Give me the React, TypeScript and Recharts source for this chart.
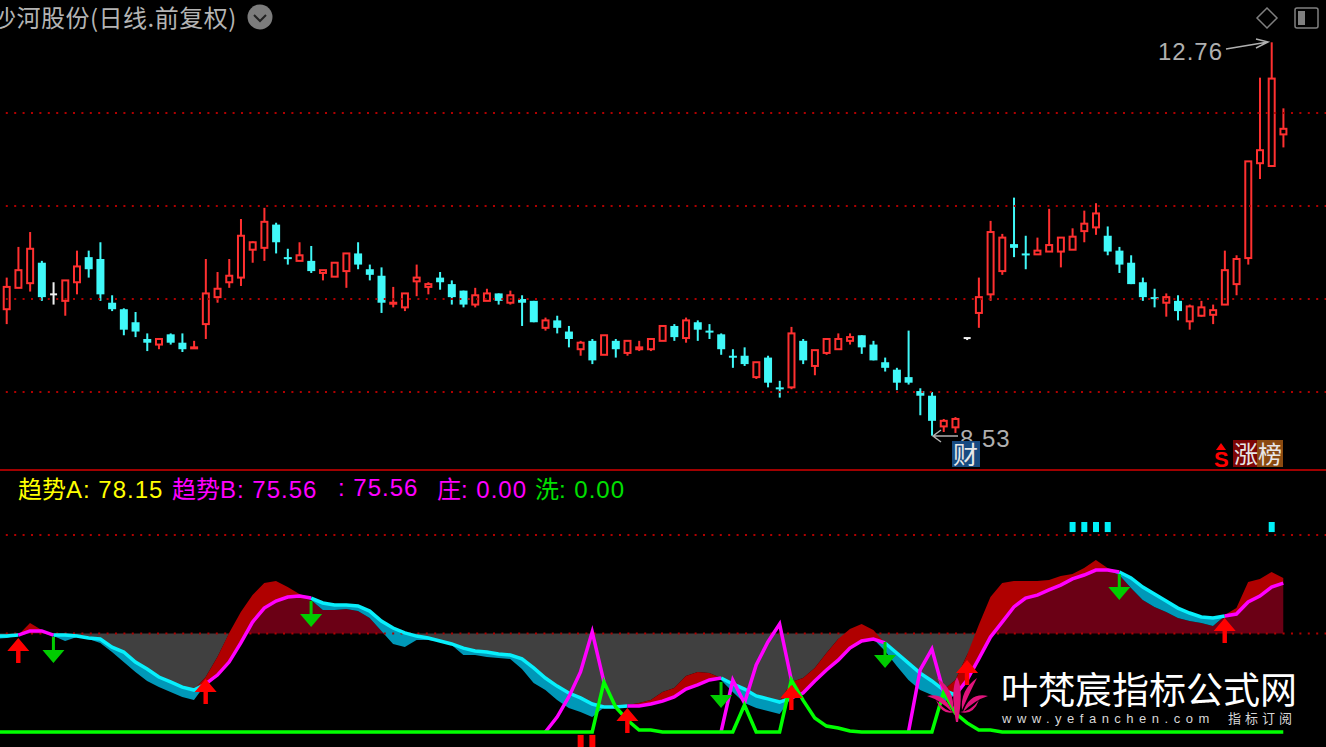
import React from 'react';
import { ComposedChart, Bar, Line, Area, XAxis, YAxis, ReferenceLine, Cell } from 'recharts';

const highs = [
  10.23, 10.56, 10.72, 10.41, 10.18, 10.20, 10.52, 10.52, 10.61, 10.04,
  9.90, 9.86, 9.63, 9.57, 9.63, 9.63, 9.55, 10.43, 10.29, 10.43,
  10.86, 10.62, 10.98, 10.82, 10.54, 10.61, 10.57, 10.31, 10.39, 10.49,
  10.61, 10.37, 10.34, 10.13, 10.06, 10.37, 10.18, 10.29, 10.20, 10.09,
  10.12, 10.11, 10.06, 10.09, 10.04, 9.98, 9.80, 9.82, 9.71, 9.55,
  9.57, 9.61, 9.57, 9.55, 9.55, 9.57, 9.71, 9.73, 9.80, 9.77,
  9.73, 9.63, 9.46, 9.48, 9.32, 9.39, 9.12, 9.70, 9.57, 9.45,
  9.57, 9.63, 9.63, 9.61, 9.55, 9.37, 9.26, 9.66, 9.04, 9.00,
  8.71, 8.73, 9.58, 10.23, 10.84, 10.70, 11.09, 10.68, 10.66, 10.97,
  10.66, 10.76, 10.95, 11.03, 10.78, 10.56, 10.47, 10.23, 10.11, 10.06,
  10.04, 9.94, 9.98, 9.94, 10.52, 10.47, 11.48, 12.38, 12.76, 12.05,
];
const lows = [
  9.73, 10.12, 10.08, 9.98, 9.94, 9.82, 10.05, 10.23, 9.98, 9.87,
  9.61, 9.59, 9.44, 9.46, 9.51, 9.43, 9.47, 9.57, 9.96, 10.12,
  10.14, 10.39, 10.41, 10.49, 10.37, 10.41, 10.28, 10.20, 10.24, 10.12,
  10.32, 10.20, 9.85, 9.91, 9.87, 10.03, 10.05, 10.10, 9.94, 9.91,
  9.91, 9.98, 9.94, 9.94, 9.71, 9.75, 9.66, 9.63, 9.48, 9.39,
  9.30, 9.40, 9.37, 9.39, 9.44, 9.44, 9.55, 9.55, 9.53, 9.55,
  9.57, 9.40, 9.26, 9.28, 9.14, 9.05, 8.94, 9.03, 9.30, 9.18,
  9.40, 9.46, 9.51, 9.41, 9.34, 9.22, 9.02, 9.08, 8.75, 8.53,
  8.57, 8.56, 9.58, 9.69, 9.98, 10.26, 10.45, 10.32, 10.48, 10.51,
  10.34, 10.53, 10.61, 10.69, 10.47, 10.28, 10.16, 9.98, 9.91, 9.81,
  9.77, 9.67, 9.81, 9.73, 9.94, 10.04, 10.37, 11.29, 11.43, 11.63,
];
const opens = [
  9.89, 10.12, 10.17, 10.39, 10.05, 9.98, 10.18, 10.45, 10.43, 9.96,
  9.89, 9.75, 9.57, 9.51, 9.62, 9.53, 9.47, 9.73, 10.02, 10.18,
  10.23, 10.53, 10.55, 10.80, 10.45, 10.41, 10.41, 10.28, 10.24, 10.30,
  10.49, 10.32, 10.25, 9.95, 9.91, 10.19, 10.13, 10.23, 10.16, 10.09,
  9.94, 9.98, 10.06, 9.96, 10.00, 9.98, 9.69, 9.77, 9.65, 9.46,
  9.55, 9.40, 9.55, 9.42, 9.46, 9.46, 9.55, 9.71, 9.58, 9.75,
  9.66, 9.62, 9.39, 9.39, 9.16, 9.37, 9.05, 9.05, 9.55, 9.28,
  9.42, 9.46, 9.55, 9.61, 9.51, 9.32, 9.24, 9.16, 9.01, 8.96,
  8.63, 8.62, 9.58, 9.85, 10.05, 10.30, 10.59, 10.49, 10.48, 10.51,
  10.51, 10.53, 10.73, 10.77, 10.68, 10.52, 10.39, 10.18, 10.02, 9.96,
  9.98, 9.76, 9.82, 9.83, 9.94, 10.16, 10.44, 11.46, 11.43, 11.77,
];
const closes = [
  10.13, 10.31, 10.54, 10.02, 10.05, 10.20, 10.35, 10.32, 10.05, 9.89,
  9.67, 9.65, 9.53, 9.57, 9.53, 9.46, 9.48, 10.06, 10.11, 10.25,
  10.68, 10.61, 10.83, 10.61, 10.43, 10.47, 10.30, 10.31, 10.39, 10.49,
  10.37, 10.26, 9.96, 9.96, 10.06, 10.23, 10.16, 10.18, 10.02, 9.94,
  10.04, 10.06, 9.98, 10.04, 9.96, 9.75, 9.77, 9.69, 9.57, 9.53,
  9.34, 9.61, 9.46, 9.55, 9.48, 9.57, 9.71, 9.59, 9.77, 9.67,
  9.65, 9.46, 9.38, 9.30, 9.32, 9.10, 9.03, 9.63, 9.34, 9.45,
  9.57, 9.57, 9.59, 9.48, 9.34, 9.26, 9.10, 9.10, 8.96, 8.69,
  8.69, 8.71, 9.58, 10.02, 10.72, 10.66, 10.55, 10.48, 10.52, 10.58,
  10.66, 10.67, 10.81, 10.92, 10.51, 10.37, 10.16, 10.02, 10.01, 10.02,
  9.87, 9.92, 9.91, 9.88, 10.31, 10.43, 11.48, 11.60, 12.37, 11.83,
];

const trendA = [
  47.7, 49.2, 55.3, 51.8, 48.7, 46.2, 48.2, 47.2, 45.2, 40.6,
  35.5, 30.5, 25.9, 22.8, 20.3, 17.8, 16.2, 27.9, 38.1, 50.3,
  60.9, 69.5, 75.6, 76.6, 73.6, 70.0, 67.0, 61.9, 61.9, 62.4,
  61.4, 57.9, 51.3, 44.7, 43.1, 46.7, 46.7, 45.9, 44.2, 39.1,
  39.1, 38.1, 37.6, 37.1, 32.0, 24.9, 21.3, 16.2, 12.2, 10.2,
  7.6, 12.5, 12.6, 13.7, 14.7, 16.2, 20.3, 22.3, 28.4, 30.5,
  29.9, 26.4, 20.3, 14.7, 12.2, 10.7, 9.1, 25.4, 27.4, 32.5,
  40.1, 47.2, 52.3, 54.8, 51.8, 41.1, 33.5, 26.4, 21.3, 18.8,
  15.2, 26.4, 39.1, 54.3, 68.5, 75.6, 76.6, 76.6, 76.6, 77.2,
  79.2, 80.2, 83.2, 87.3, 83.2, 79.7, 73.1, 67.0, 63.5, 60.9,
  57.9, 56.3, 55.3, 53.8, 59.4, 62.9, 76.1, 77.7, 81.2, 78.15,
];
const trendB = [
  48.7, 49.2, 51.3, 51.3, 49.2, 49.2, 48.7, 47.7, 47.2, 43.1,
  40.6, 35.5, 32.0, 27.9, 25.4, 22.8, 21.3, 24.4, 28.9, 35.5,
  45.2, 55.8, 62.9, 66.5, 68.5, 69.0, 68.0, 65.5, 64.5, 64.5,
  64.0, 61.4, 56.3, 52.8, 50.3, 48.7, 47.7, 46.2, 44.7, 42.6,
  41.1, 40.6, 39.6, 39.1, 37.1, 32.5, 27.4, 23.3, 19.8, 17.3,
  14.2, 12.7, 12.7, 13.2, 13.2, 14.2, 15.7, 17.8, 21.8, 23.9,
  26.4, 27.4, 24.4, 21.8, 18.3, 16.8, 15.2, 17.3, 19.8, 25.9,
  31.5, 36.5, 42.6, 46.2, 47.2, 45.2, 40.1, 35.0, 29.9, 25.9,
  21.3, 18.8, 26.4, 37.1, 48.2, 55.8, 63.5, 68.0, 69.5, 72.1,
  74.6, 77.7, 79.7, 82.2, 82.2, 81.2, 78.2, 73.6, 70.0, 66.5,
  62.9, 60.4, 58.4, 57.9, 58.9, 59.9, 66.0, 69.0, 73.6, 75.56,
];
const leadA = 47.2;
const leadB = 48.7;

// 庄 only shows during its spikes: [start index, values]
const zhuangSpikes: [number, number[]][] = [
  [46, [0, 7.6, 17.8, 30.5, 50.8, 25.4]],
  [61, [0, 26.4, 14.7, 34.0, 45.7, 54.8, 26.4]],
  [77, [0, 31.5, 42.1, 20.3]],
];
const washSpikes: [number, number[]][] = [
  [51, [25.4, 12.7, 6.1, 1.0, 1.0]],
  [63, [13.7]],
  [67, [26.4, 16.2, 7.1, 3.0, 2.0, 0.5]],
  [80, [20.3, 9.6, 4.6, 1.0, 1.0]],
];

const upArrows: [number, number][] = [[1, 47.7], [17, 26.9], [53, 12.2], [67, 23.9], [82, 36.5], [104, 57.9]];
const downArrows: [number, number][] = [[4, 35.0], [26, 53.3], [61, 12.2], [75, 32.5], [95, 67.0]];
const signalDays = [91, 92, 93, 94, 108];
const stickDays = [49, 50];

const priceGrid = [12, 11, 10, 9];
const indicatorGrid = [100, 50];

const zhuang: (number | null)[] = highs.map(() => null);
zhuangSpikes.forEach(([s, vals]) => vals.forEach((v, k) => { zhuang[s + k] = v; }));
const wash: number[] = highs.map(() => 0);
washSpikes.forEach(([s, vals]) => vals.forEach((v, k) => { wash[s + k] = v; }));

const isUp = (i: number) => i >= 0 && i < trendA.length && trendA[i] >= trendB[i];
const isDown = (i: number) => i >= 0 && i < trendA.length && trendA[i] < trendB[i];

const rows: any[] = [
  { key: 'lead', a: leadA, b: leadB, teal: [leadA, leadB], gray: [leadB, 50], bDown: leadB, wash: 0 },
];
highs.forEach((h, i) => {
  const a = trendA[i];
  const b = trendB[i];
  const upper = Math.max(a, b);
  const lower = Math.min(a, b);
  const mark = signalDays.includes(i) ? [101.5, 106.6] : stickDays.includes(i) ? [-7.6, -1.5] : null;
  rows.push({
    key: i,
    range: [lows[i], h],
    open: opens[i],
    close: closes[i],
    high: h,
    low: lows[i],
    gray: upper < 50 ? [upper, 50] : [50, 50],
    maroon: lower > 50 ? [50, lower] : [50, 50],
    red: isUp(i) ? [b, a] : isUp(i - 1) || isUp(i + 1) ? [b, b] : null,
    teal: isDown(i) ? [a, b] : isDown(i - 1) || isDown(i + 1) ? [b, b] : null,
    bUp: isUp(i) || isUp(i - 1) ? b : null,
    bDown: isDown(i) || isDown(i - 1) ? b : null,
    zhuang: zhuang[i],
    wash: wash[i],
    mark,
    markFill: signalDays.includes(i) ? '#00f0f8' : '#ff0000',
    up: upArrows.find((p) => p[0] === i)?.[1] ?? null,
    down: downArrows.find((p) => p[0] === i)?.[1] ?? null,
  });
});
// blank days to the right so the dotted lines reach the edge
[0, 1, 2, 3].forEach((k) => rows.push({ key: 'blank' + k }));

const SLOT = 11.713;
const CHART_W = rows.length * SLOT;
const LEFT = 7 - 1.5 * SLOT;

const RED = '#ff3030';
const CYAN = '#40f8f8';

function Candle(props: any) {
  const { x, y, width, height, payload } = props;
  if (!payload || payload.range == null) return null;
  const { open, close, high, low } = payload;
  const cx = x + width / 2;
  const h = Math.abs(height);
  const span = high - low;
  const at = (p: number) => (span > 0 ? y + ((high - p) / span) * h : y);
  const top = at(Math.max(open, close));
  const bot = at(Math.min(open, close));
  if (open === close) {
    return (
      <g>
        <rect x={cx - 1} y={at(high)} width={2} height={Math.max(at(low) - at(high), 2)} fill="#f0f0f0" />
        <rect x={cx - 3.5} y={top - 1} width={7} height={2} fill="#f0f0f0" />
      </g>
    );
  }
  if (close > open) {
    return (
      <g>
        <rect x={cx - 1} y={at(high)} width={2} height={Math.max(top - at(high), 0)} fill={RED} />
        <rect x={cx - 1} y={bot} width={2} height={Math.max(at(low) - bot, 0)} fill={RED} />
        <rect x={cx - 3} y={top} width={6} height={Math.max(bot - top, 1)} fill="#000" stroke={RED} strokeWidth={2} />
      </g>
    );
  }
  return (
    <g>
      <rect x={cx - 1} y={at(high)} width={2} height={Math.max(at(low) - at(high), 0)} fill={CYAN} />
      <rect x={cx - 4} y={top} width={8} height={Math.max(bot - top, 2)} fill={CYAN} />
    </g>
  );
}

function UpArrow(props: any) {
  const { cx, cy, index } = props;
  if (cy == null || cx == null) return <g key={index} />;
  return (
    <path
      key={index}
      d={`M${cx} ${cy} L${cx + 11} ${cy + 13} L${cx + 2.2} ${cy + 13} L${cx + 2.2} ${cy + 25} L${cx - 2.2} ${cy + 25} L${cx - 2.2} ${cy + 13} L${cx - 11} ${cy + 13} Z`}
      fill="#ff0000"
    />
  );
}

function DownArrow(props: any) {
  const { cx, cy, index } = props;
  if (cy == null || cx == null) return <g key={index} />;
  return (
    <path
      key={index}
      d={`M${cx} ${cy} L${cx + 11} ${cy - 13} L${cx + 1.5} ${cy - 13} L${cx + 1.5} ${cy - 26} L${cx - 1.5} ${cy - 26} L${cx - 1.5} ${cy - 13} L${cx - 11} ${cy - 13} Z`}
      fill="#00cc00"
    />
  );
}

const CJK = '"Noto Sans CJK SC", "Noto Sans", sans-serif';
const DIGIT = '"Liberation Sans", Arial, sans-serif';

function Txt({ x, y, size, color, children, font, extra }: any) {
  return (
    <div
      style={{
        position: 'absolute',
        left: x,
        top: y,
        fontSize: size,
        lineHeight: `${size + 4}px`,
        color,
        fontFamily: font || CJK,
        whiteSpace: 'nowrap',
        ...extra,
      }}
    >
      {children}
    </div>
  );
}

const digitSpan = { fontFamily: DIGIT, letterSpacing: 1 };

export default function App() {
  return (
    <div style={{ position: 'absolute', left: 0, top: 0, width: 1326, height: 747, background: '#000', overflow: 'hidden' }}>
      <div style={{ position: 'absolute', left: LEFT, top: 0 }}>
        <ComposedChart width={CHART_W} height={469} data={rows} margin={{ top: 0, right: 0, bottom: 0, left: 0 }} barCategoryGap={0}>
          <XAxis dataKey="key" hide interval={0} />
          <YAxis hide domain={[8.172, 13.215]} allowDataOverflow />
          {priceGrid.map((p) => (
            <ReferenceLine key={p} y={p} stroke="#b00000" strokeWidth={2} strokeDasharray="2 6.4" />
          ))}
          <Bar dataKey="range" shape={<Candle />} isAnimationActive={false} />
        </ComposedChart>
      </div>

      <div style={{ position: 'absolute', left: 0, top: 469, width: 1326, height: 2, background: '#a00000' }} />

      <div style={{ position: 'absolute', left: LEFT, top: 471 }}>
        <ComposedChart width={CHART_W} height={276} data={rows} margin={{ top: 0, right: 0, bottom: 0, left: 0 }} barSize={6}>
          <XAxis dataKey="key" hide interval={0} />
          <YAxis hide domain={[-7.61, 132.49]} allowDataOverflow />
          {indicatorGrid.map((v) => (
            <ReferenceLine key={v} y={v} stroke="#b00000" strokeWidth={2} strokeDasharray="2 6.4" />
          ))}
          <Area dataKey="gray" type="linear" fill="#404040" fillOpacity={1} stroke="none" isAnimationActive={false} />
          <Area dataKey="maroon" type="linear" fill="#6b0015" fillOpacity={1} stroke="none" isAnimationActive={false} />
          <Area dataKey="red" type="linear" fill="#b00000" fillOpacity={1} stroke="none" isAnimationActive={false} />
          <Area dataKey="teal" type="linear" fill="#0098b8" fillOpacity={1} stroke="none" isAnimationActive={false} />
          <Bar dataKey="mark" isAnimationActive={false}>
            {rows.map((r) => (
              <Cell key={r.key} fill={r.markFill || '#000'} />
            ))}
          </Bar>
          <Line dataKey="bDown" type="linear" stroke="#08f0fc" strokeWidth={3.5} dot={false} activeDot={false} isAnimationActive={false} />
          <Line dataKey="bUp" type="linear" stroke="#ff00ff" strokeWidth={3.5} dot={false} activeDot={false} isAnimationActive={false} />
          <Line dataKey="zhuang" type="linear" stroke="#ff00ff" strokeWidth={3.5} dot={false} activeDot={false} isAnimationActive={false} />
          <Line dataKey="wash" type="linear" stroke="#00ff00" strokeWidth={3.5} dot={false} activeDot={false} isAnimationActive={false} />
          <Line dataKey="up" stroke="none" dot={<UpArrow />} activeDot={false} isAnimationActive={false} />
          <Line dataKey="down" stroke="none" dot={<DownArrow />} activeDot={false} isAnimationActive={false} />
        </ComposedChart>
      </div>

      {/* header */}
      <Txt x={-8} y={3} size={24} color="#b4b4b4" extra={{ letterSpacing: 0.5 }}>沙河股份(日线.前复权)</Txt>

      {/* panel legend */}
      <Txt x={18} y={474} size={24} color="#ffff00">趋势<span style={digitSpan}>A: 78.15</span></Txt>
      <Txt x={172} y={474} size={24} color="#ff00ff">趋势<span style={digitSpan}>B: 75.56</span></Txt>
      <Txt x={338} y={474} size={24} color="#ff00ff" font={DIGIT} extra={{ letterSpacing: 1 }}>: 75.56</Txt>
      <Txt x={437} y={474} size={24} color="#ff00ff">庄<span style={digitSpan}>: 0.00</span></Txt>
      <Txt x={535} y={474} size={24} color="#00e000">洗<span style={digitSpan}>: 0.00</span></Txt>

      {/* high / low labels */}
      <Txt x={1158} y={38} size={24} color="#b0b0b0" font={DIGIT} extra={{ letterSpacing: 1 }}>12.76</Txt>
      <Txt x={960} y={425} size={24} color="#b0b0b0" font={DIGIT} extra={{ letterSpacing: 1 }}>8.53</Txt>

      {/* tags */}
      <div style={{ position: 'absolute', left: 952, top: 441, width: 28, height: 26, background: '#174a80' }} />
      <Txt x={953} y={439} size={25} color="#e8e8e8">财</Txt>
      <div style={{ position: 'absolute', left: 1233, top: 440, width: 24, height: 27, background: '#7c0505' }} />
      <div style={{ position: 'absolute', left: 1257, top: 440, width: 26, height: 27, background: '#8a4a10' }} />
      <Txt x={1234} y={439} size={24} color="#e8e8e8">涨</Txt>
      <Txt x={1258} y={439} size={24} color="#e8e8e8">榜</Txt>
      <Txt x={1214} y={447} size={22} color="#ff0000" font={DIGIT} extra={{ fontWeight: 700 }}>S</Txt>

      {/* watermark */}
      <Txt x={1001} y={668} size={37} color="#ffffff">叶梵宸指标公式网</Txt>
      <Txt x={1002} y={710} size={13} color="#d8d8d8" font={DIGIT} extra={{ letterSpacing: 5.5 }}>www.yefanchen.com</Txt>
      <Txt x={1228} y={709} size={13} color="#d8d8d8" extra={{ letterSpacing: 4 }}>指标订阅</Txt>

      <svg width={1326} height={747} style={{ position: 'absolute', left: 0, top: 0 }}>
        <circle cx={260} cy={17} r={12.5} fill="#7c7c7c" />
        <path d="M254 15 L260 21 L266 15" fill="none" stroke="#222" strokeWidth={2} />
        <path d="M1267 8 L1277 18 L1267 28 L1257 18 Z" fill="none" stroke="#808080" strokeWidth={1.5} />
        <rect x={1295} y={8} width={23} height={20} rx={2} fill="none" stroke="#808080" strokeWidth={1.5} />
        <rect x={1298} y={11} width={7} height={14} fill="#808080" />
        <path d="M1226 49 L1268 42 M1256 39 L1268 42 L1256 48" fill="none" stroke="#b0b0b0" strokeWidth={1.5} />
        <path d="M958 436 L933 436 M941 430 L933 436 L941 442" fill="none" stroke="#b0b0b0" strokeWidth={1.5} />
        <path d="M1221 443 L1226 450 L1216 450 Z" fill="#ff0000" />
        <g fill="#e0147c">
          <path d="M927 696 Q945 692 952 712 Q940 700 927 696 Z" />
          <path d="M988 696 Q970 692 963 712 Q975 700 988 696 Z" />
          <path d="M937 678 Q955 690 953 710 Q945 692 937 678 Z" />
          <path d="M977 678 Q960 690 962 710 Q970 692 977 678 Z" />
          <path d="M936 700 Q945 712 955 712 Q942 716 936 700 Z" />
          <path d="M979 700 Q970 712 960 712 Q973 716 979 700 Z" />
          <path d="M957 677 Q964 690 958 722 L956 722 Q950 690 957 677 Z" />
        </g>
      </svg>
    </div>
  );
}
